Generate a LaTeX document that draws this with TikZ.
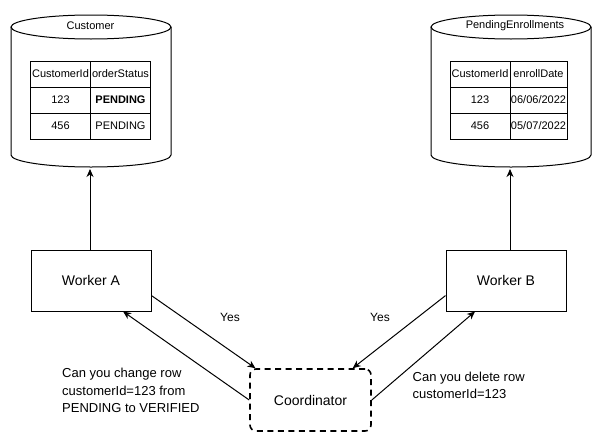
\documentclass[tikz,border=0pt]{standalone}
\usepackage{fontspec}
\setmainfont{Liberation Sans}
\usetikzlibrary{arrows.meta, positioning, matrix}

\begin{document}
\begin{tikzpicture}[
    x=1pt, y=-1pt,
    box/.style={rectangle, draw, line width=1pt, minimum width=120pt, minimum height=61pt, align=center, font=\fontsize{14}{17}\selectfont},
    coordbox/.style={rectangle, draw, line width=1.6pt, dash pattern=on 6pt off 4.5pt, rounded corners=6pt, minimum width=121pt, minimum height=62pt, font=\fontsize{14}{17}\selectfont},
    db/.style={draw, line width=1pt},
    dbtitle/.style={font=\fontsize{11}{13}\selectfont},
    cell/.style={draw, line width=1pt, minimum width=60pt, minimum height=26pt, inner sep=0pt, text height=6pt, text depth=0pt, font=\fontsize{11}{13}\selectfont},
    dbtable/.style={matrix of nodes, nodes={cell}, column sep=-1pt, row sep=-1pt},
    note/.style={align=left, inner sep=0pt, font=\fontsize{13}{17.5}\selectfont},
    arrow/.style={-{Stealth[length=8pt, width=7pt, inset=2.5pt]}, line width=1pt}
]
    \useasboundingbox (0,0) rectangle (601,442);

    % Customer database
    \draw[db] (11,27) -- (11,155) arc[start angle=180, end angle=0, x radius=80, y radius=12] -- (171,27);
    \draw[db] (91,27) ellipse[x radius=80, y radius=12];
    \node[dbtitle] (custTitle) at (90.5,25.5) {Customer};
    \matrix[dbtable] (custTable) at (90.5,100) {
        CustomerId & orderStatus \\
        123 & \textbf{PENDING} \\
        456 & PENDING \\
    };
    \coordinate (custDB) at (90,169);

    % PendingEnrollments database
    \draw[db] (431,27) -- (431,155) arc[start angle=180, end angle=0, x radius=80, y radius=12] -- (591,27);
    \draw[db] (511,27) ellipse[x radius=80, y radius=12];
    \node[dbtitle] (pendTitle) at (515,25.5) {PendingEnrollments};
    \matrix[dbtable, column 2/.style={nodes={minimum width=57pt}}] (pendTable) at (508.5,100) {
        CustomerId & enrollDate \\
        123 & 06/06/2022 \\
        456 & 05/07/2022 \\
    };
    \coordinate (pendDB) at (510,169);

    % Workers
    \node[box] (workerA) at (91,280.5) {Worker A};
    \node[box, right=294pt of workerA] (workerB) {Worker B};

    % Coordinator
    \node[coordbox] (coord) at (310.5,400) {Coordinator};

    % Labels
    \node[font=\fontsize{12}{14}\selectfont] (yesA) at (230,317) {Yes};
    \node[font=\fontsize{12}{14}\selectfont] (yesB) at (380,317) {Yes};
    \node[note, anchor=west] (askA) at (62,390.5) {Can you change row\\customerId=123 from\\PENDING to VERIFIED};
    \node[note, anchor=west] (askB) at (412.5,385.5) {Can you delete row\\customerId=123};

    % Arrows
    \draw[arrow] (workerA.north -| custDB) -- (custDB);
    \draw[arrow] (workerB.north -| pendDB) -- (pendDB);
    \draw[arrow] (workerA.-14.5) -- (coord.150);
    \draw[arrow] (coord.west) -- (workerA.316);
    \draw[arrow] (workerB.194.5) -- (coord.37);
    \draw[arrow] (coord.east) -- (workerB.225);
\end{tikzpicture}
\end{document}
